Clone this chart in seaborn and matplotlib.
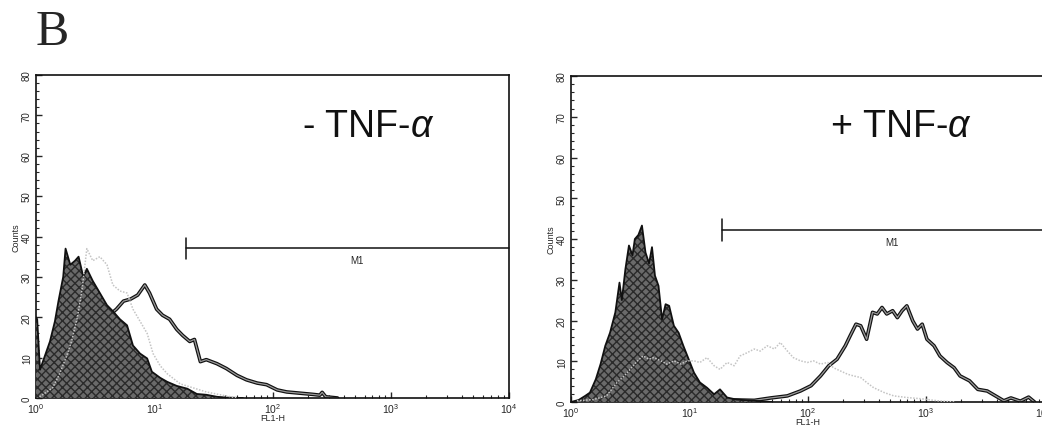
import numpy as np
import matplotlib.pyplot as plt
import seaborn as sns

sns.set_style("ticks")
plt.rcParams['font.family'] = ['Liberation Sans', 'DejaVu Sans']
plt.rcParams['mathtext.fontset'] = 'custom'
plt.rcParams['mathtext.rm'] = 'Liberation Sans'
plt.rcParams['mathtext.it'] = 'Liberation Sans:italic'

# --- Data: FL1-H position in decades (log10) and counts ---
# left panel (- TNF-a)
left_fill_dec = [0.0, 0.01, 0.034, 0.07, 0.118, 0.16, 0.19, 0.23, 0.25, 0.29, 0.33, 0.36, 0.40,
                 0.43, 0.48, 0.54, 0.60, 0.65, 0.71, 0.77, 0.82, 0.88, 0.94, 0.98, 1.05,
                 1.11, 1.19, 1.28, 1.36, 1.44, 1.53, 1.62, 1.75]
left_fill_cnt = [20, 19.5, 7, 10, 14, 19, 24, 30, 37, 33, 34, 35, 30,
                 32, 29, 26, 23, 21.5, 19.5, 18, 13, 11, 9.8, 6.5, 5,
                 4, 3, 2.3, 1, 0.8, 0.3, 0.1, 0]

left_open_dec = [0.0, 0.2, 0.3, 0.4, 0.5, 0.6, 0.68, 0.74, 0.8, 0.86, 0.92, 0.96, 1.02,
                 1.07, 1.13, 1.19, 1.24, 1.30, 1.34, 1.39, 1.44, 1.53, 1.61, 1.70, 1.78,
                 1.87, 1.95, 2.04, 2.12, 2.23, 2.34, 2.40, 2.42, 2.45, 2.55]
left_open_cnt = [0, 3, 8, 13, 17, 20, 22, 24, 24.5, 25.5, 28, 26, 22,
                 20.5, 19.5, 17, 15.5, 14, 14.5, 9, 9.5, 8.5, 7.3, 5.6, 4.5,
                 3.7, 3.3, 2, 1.5, 1.2, 0.9, 0.7, 1.4, 0.3, 0]

left_ctrl_dec = [0.03, 0.14, 0.20, 0.26, 0.30, 0.35, 0.39, 0.43, 0.48, 0.54, 0.60, 0.65, 0.71,
                 0.77, 0.82, 0.88, 0.94, 0.99, 1.05, 1.11, 1.22, 1.33, 1.44, 1.61, 1.70]
left_ctrl_cnt = [0.3, 2.5, 6, 10.5, 14, 20, 27, 37, 34, 35, 33, 28, 26.5,
                 26, 22, 19, 16, 11, 8, 6, 3.5, 2.5, 1.5, 0.5, 0]

# right panel (+ TNF-a)
right_fill_dec = [0.0, 0.065, 0.12, 0.16, 0.21, 0.25, 0.29, 0.33, 0.375, 0.41, 0.43, 0.46, 0.49,
                  0.52, 0.54, 0.57, 0.60, 0.63, 0.66, 0.685, 0.71, 0.74, 0.77, 0.80, 0.83,
                  0.87, 0.91, 0.95, 0.995, 1.04, 1.09, 1.15, 1.21, 1.26, 1.32, 1.40, 1.55, 1.70]
right_fill_cnt = [0, 0.5, 1.5, 2.3, 5.6, 9.3, 13.8, 17, 22, 29.3, 25, 32.6, 38.4,
                  36, 40, 41, 43.3, 36.7, 34, 38, 31, 28.5, 20.3, 24, 23.6,
                  18.7, 17, 13.8, 10.5, 7.2, 4.8, 3.5, 1.9, 3.1, 1.1, 0.6, 0.3, 0]

right_open_dec = [1.2, 1.40, 1.55, 1.69, 1.83, 1.94, 2.03, 2.11, 2.18, 2.25, 2.32, 2.36, 2.41,
                  2.45, 2.50, 2.55, 2.59, 2.63, 2.67, 2.72, 2.76, 2.80, 2.84, 2.89, 2.93,
                  2.97, 3.01, 3.07, 3.12, 3.18, 3.24, 3.29, 3.37, 3.44, 3.52, 3.59, 3.66,
                  3.72, 3.80, 3.87, 3.92]
right_open_cnt = [0.3, 0.5, 0.4, 1.0, 1.5, 2.7, 4, 6.4, 8.9, 10.5, 13.8, 16.2, 19.1,
                  18.7, 15.4, 22, 21.6, 23.2, 21.6, 22.4, 20.7, 22.4, 23.6, 19.9, 17.9,
                  19.1, 15.4, 13.8, 11.3, 9.7, 8.4, 6.4, 5.2, 3.1, 2.7, 1.5, 0.3,
                  1.0, 0.2, 1.2, 0]

right_ctrl_dec = [0.05, 0.19, 0.30, 0.39, 0.45, 0.50, 0.56, 0.61, 0.66, 0.70, 0.76, 0.81, 0.87,
                  0.93, 0.98, 1.04, 1.09, 1.15, 1.21, 1.26, 1.32, 1.38, 1.43, 1.49, 1.55,
                  1.60, 1.66, 1.72, 1.77, 1.83, 1.88, 1.94, 2.00, 2.05, 2.11, 2.17, 2.22,
                  2.28, 2.34, 2.39, 2.45, 2.50, 2.56, 2.65, 2.73, 2.84, 2.96, 3.10, 3.25]
right_ctrl_cnt = [0.3, 0.6, 1.5, 4.8, 6.4, 8, 10, 11.3, 10.5, 10.9, 10.1, 9.3, 10.1,
                  9.3, 10.1, 10.1, 9.7, 10.9, 8.9, 8, 9.7, 8.9, 11.3, 12.1, 13,
                  12.5, 13.8, 13, 14.6, 12.5, 10.9, 10.1, 9.7, 10.1, 9.3, 9.7, 8.4,
                  7.6, 6.8, 6.4, 6, 4.8, 3.5, 2.3, 1.5, 1.1, 0.8, 0.3, 0]

panels = [
    dict(fill=(left_fill_dec, left_fill_cnt), open=(left_open_dec, left_open_cnt),
         ctrl=(left_ctrl_dec, left_ctrl_cnt), label="- TNF-$\\alpha$",
         gate_x=18.6, gate_y=37.1, rect=[36 / 1042, 32 / 431, 473 / 1042, 323 / 431],
         text_xy=(0.562, 0.811)),
    dict(fill=(right_fill_dec, right_fill_cnt), open=(right_open_dec, right_open_cnt),
         ctrl=(right_ctrl_dec, right_ctrl_cnt), label="+ TNF-$\\alpha$",
         gate_x=19.0, gate_y=42.3, rect=[571 / 1042, 28 / 431, 473 / 1042, 326 / 431],
         text_xy=(0.548, 0.816)),
]

fig = plt.figure(figsize=(10.42, 4.31), dpi=100)
fig.text(36 / 1042, 1 - 45 / 431, "B", fontsize=36, family="Liberation Serif",
         ha="left", va="baseline")

for p in panels:
    ax = fig.add_axes(p["rect"])

    # open (stained) histogram, drawn below the filled one
    ox = 10 ** np.array(p["open"][0])
    sns.lineplot(x=ox, y=p["open"][1], ax=ax, color="#111111", linewidth=2.6, zorder=2)
    sns.lineplot(x=ox, y=p["open"][1], ax=ax, color="#9a9a9a", linewidth=0.9, zorder=2.1)

    # filled (isotype) histogram
    fx = 10 ** np.array(p["fill"][0])
    ax.fill_between(fx, p["fill"][1], facecolor="#6a6a6a", edgecolor="#2a2a2a",
                    hatch="xxxx", linewidth=0, zorder=3)
    sns.lineplot(x=fx, y=p["fill"][1], ax=ax, color="#111111", linewidth=1.3, zorder=3.5)

    # dotted light control
    cx = 10 ** np.array(p["ctrl"][0])
    sns.lineplot(x=cx, y=p["ctrl"][1], ax=ax, color="#c4c4c4", linewidth=1.1,
                 linestyle=(0, (1, 1)), zorder=4)

    # M1 gate marker
    ax.plot([p["gate_x"], 1e4], [p["gate_y"], p["gate_y"]], color="#111111",
            linewidth=1.1, zorder=5, clip_on=False)
    ax.plot([p["gate_x"], p["gate_x"]], [p["gate_y"] - 2.7, p["gate_y"] + 2.5],
            color="#111111", linewidth=1.1, zorder=5)
    ax.text(516, p["gate_y"] - 3.0, "M1", fontsize=7, ha="center", va="center")

    ax.text(p["text_xy"][0], p["text_xy"][1], p["label"], transform=ax.transAxes,
            fontsize=27, ha="left", va="baseline", color="#111111")

    ax.set_xscale("log")
    ax.set_xlim(1, 1e4)
    ax.set_ylim(0, 80)
    ax.set_yticks(np.arange(0, 81, 10))
    ax.set_yticks(np.arange(0, 81, 2), minor=True)
    ax.tick_params(axis="y", which="major", labelsize=7, labelrotation=90, direction="in",
                   length=4, width=1, pad=3)
    ax.tick_params(axis="y", which="minor", direction="in", length=2, width=0.8)
    for lab in ax.get_yticklabels():
        lab.set_va("center")
    ax.tick_params(axis="x", which="major", labelsize=7.5, direction="in", length=4,
                   width=1, pad=2)
    ax.tick_params(axis="x", which="minor", direction="in", length=2.5, width=0.8)
    ax.set_xlabel("FL1-H", fontsize=6.5, labelpad=-1)
    ax.set_ylabel("Counts", fontsize=6.5, labelpad=1)
    for s in ax.spines.values():
        s.set_linewidth(1.2)
        s.set_color("#111111")

fig.savefig("out.png", dpi=100)
